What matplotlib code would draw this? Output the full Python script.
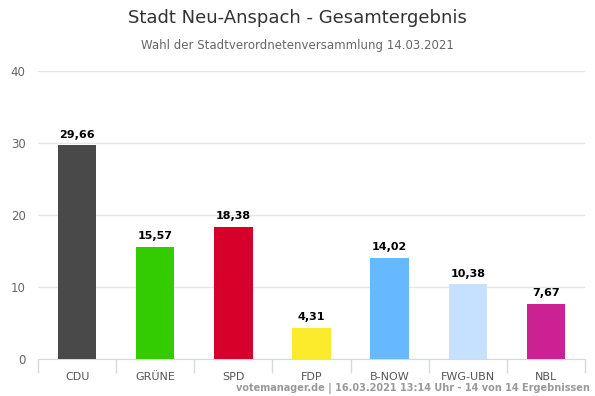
import matplotlib.pyplot as plt
import numpy as np

parties = ["CDU", "GRÜNE", "SPD", "FDP", "B-NOW", "FWG-UBN", "NBL"]
shares = [29.66, 15.57, 18.38, 4.31, 14.02, 10.38, 7.67]
colors = ["#494949", "#33cc00", "#d7002a", "#fcea2c", "#66b9ff", "#c6e1ff", "#cc2192"]
y_ticks = [0, 10, 20, 30, 40]

fig = plt.figure(figsize=(5.95, 3.96), dpi=100)
ax = fig.add_axes([0.064, 0.0934, 0.919, 0.7273])

x = np.arange(len(parties))
ax.bar(x, shares, width=0.49, color=colors, zorder=3)
for xi, v in zip(x, shares):
    ax.text(xi, v + 0.8, f"{v:.2f}".replace(".", ","), ha="center", va="bottom",
            fontsize=8, fontweight="bold", color="black")

ax.set_xlim(-0.5, len(parties) - 0.5)
ax.set_ylim(0, 40)
ax.set_yticks(y_ticks)
ax.set_yticklabels([str(t) for t in y_ticks])
ax.yaxis.grid(True, color="#e6e6e6", linewidth=1, zorder=0)
ax.tick_params(axis="y", length=0, labelsize=8.5, labelcolor="#666666", pad=9)

ax.set_xticks(x)
ax.set_xticklabels(parties)
ax.set_xticks(np.arange(-0.5, len(parties)), minor=True)
ax.tick_params(axis="x", which="major", length=0, labelsize=8, labelcolor="#555555", pad=9)
ax.tick_params(axis="x", which="minor", length=10, color="#d5d9e0", width=1)

for s in ["top", "right", "left"]:
    ax.spines[s].set_visible(False)
ax.spines["bottom"].set_color("#d5d9e0")

fig.text(0.5, 0.955, "Stadt Neu-Anspach - Gesamtergebnis", ha="center", va="center",
         fontsize=13, color="#333333")
fig.text(0.5, 0.884, "Wahl der Stadtverordnetenversammlung 14.03.2021", ha="center",
         va="center", fontsize=8.5, color="#666666")
fig.text(0.992, 0.02, "votemanager.de | 16.03.2021 13:14 Uhr - 14 von 14 Ergebnissen",
         ha="right", va="center", fontsize=7, fontweight="bold", color="#999999")

fig.savefig("out.png", dpi=100)
